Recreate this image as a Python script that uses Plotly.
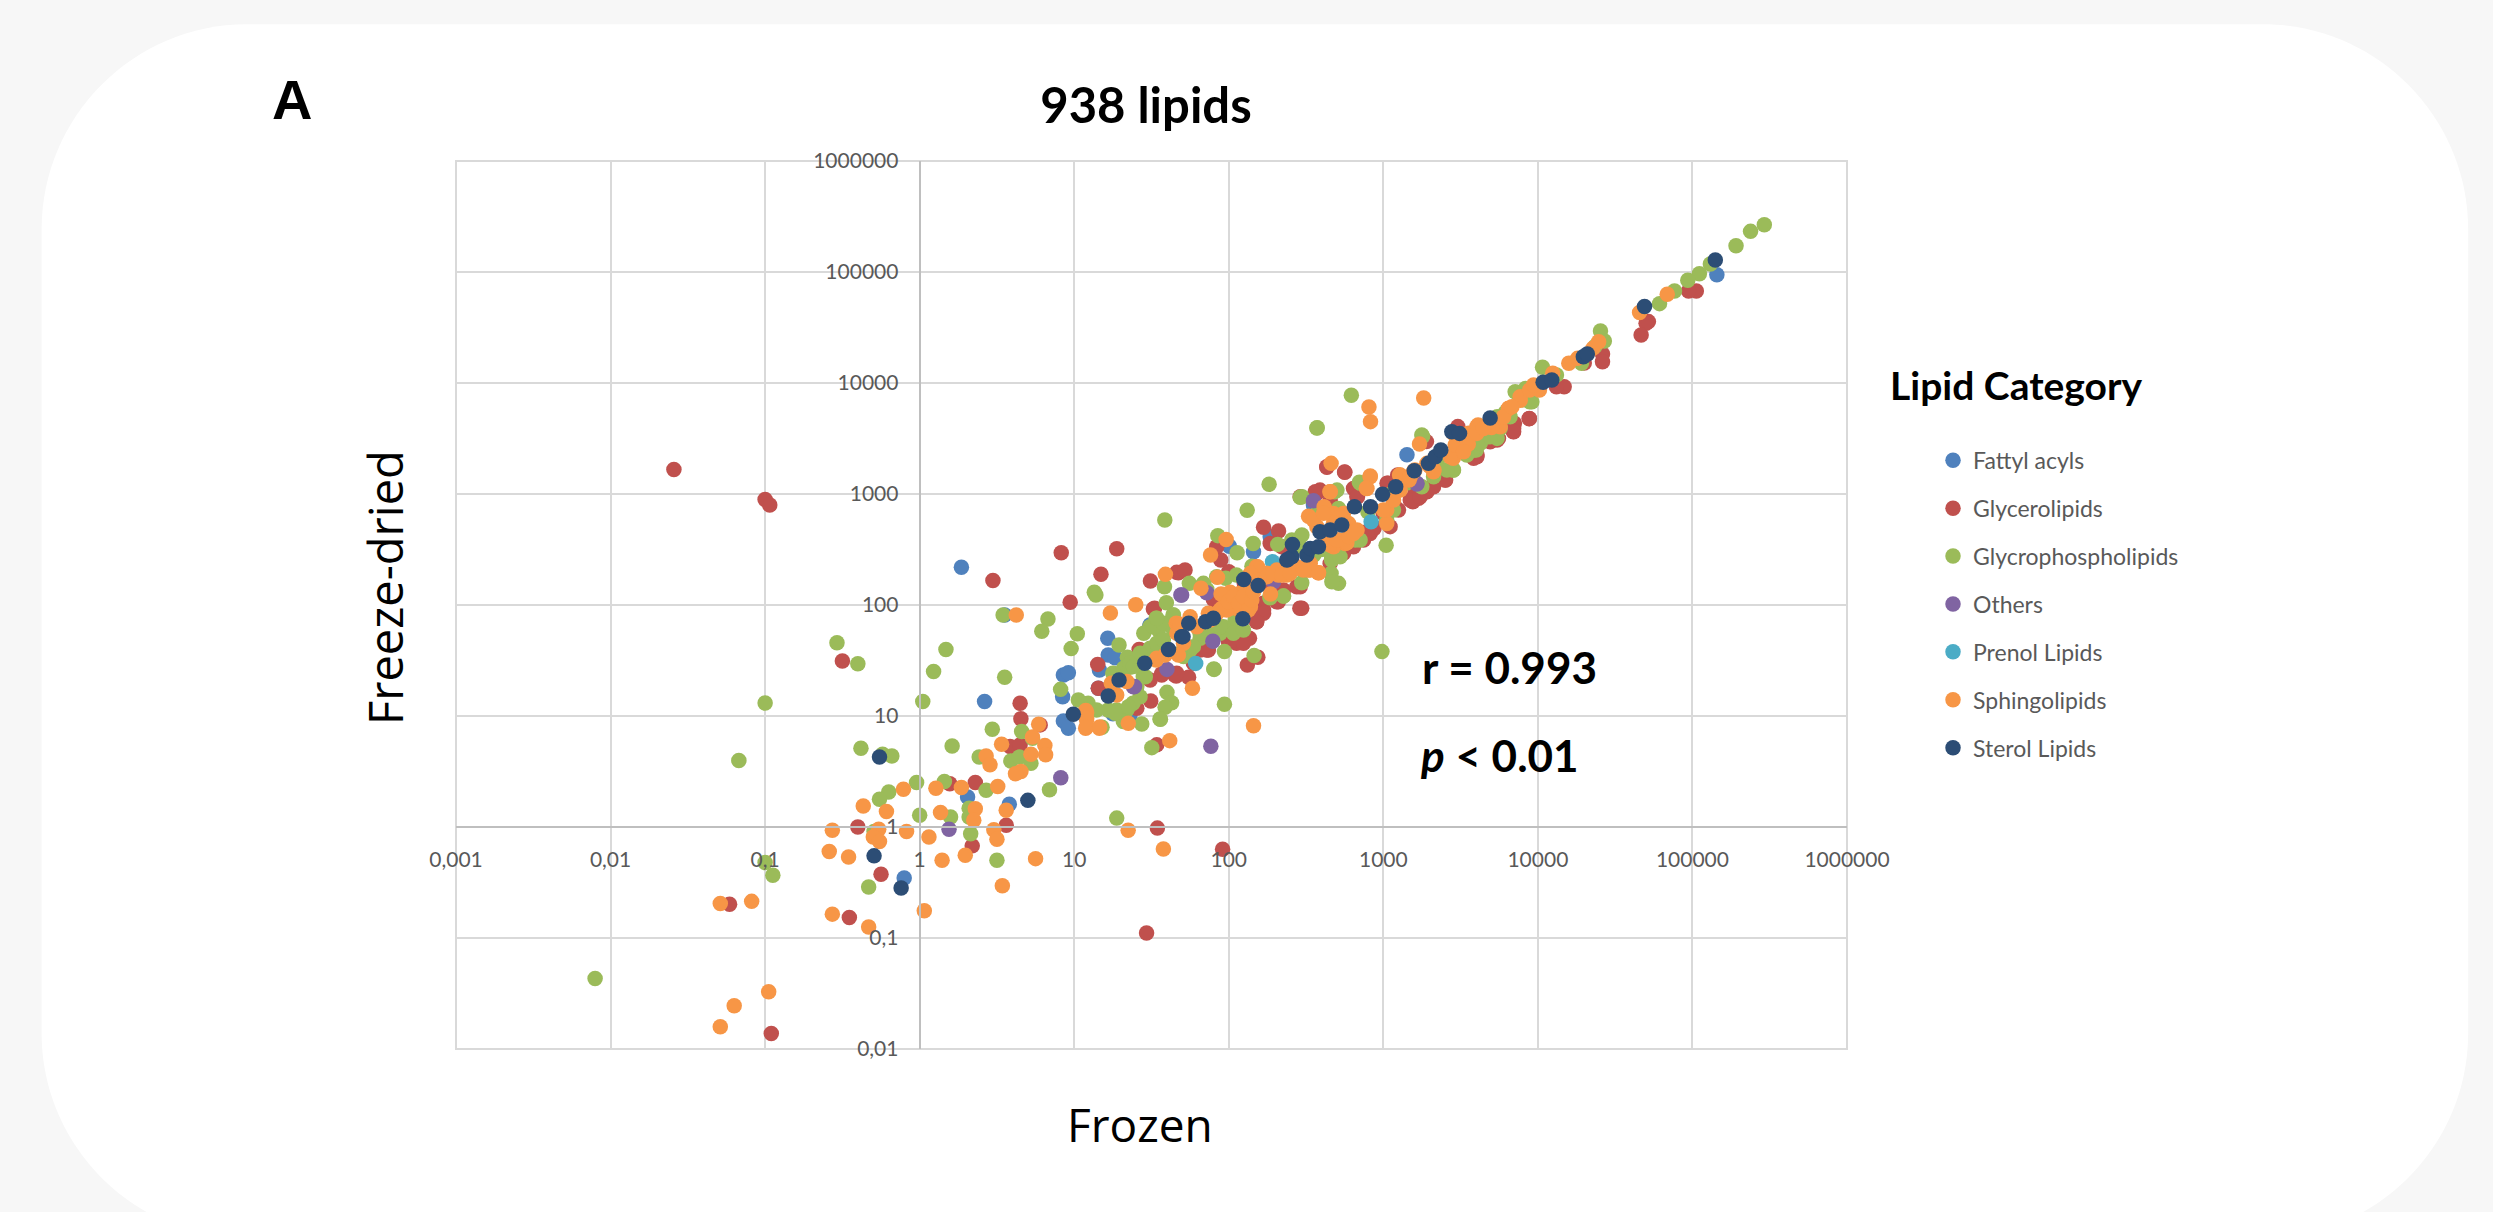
import plotly.graph_objects as go

# ---- values, log10(frozen) / log10(freeze-dried) ----
series_names = ["Fattyl acyls", "Glycerolipids", "Glycrophospholipids", "Others",
                "Prenol Lipids", "Sphingolipids", "Sterol Lipids"]
series_colors = ["#4F81BD", "#C0504D", "#9BBB59", "#8064A2", "#4BACC6", "#F79646", "#2C4D75"]

fatty_x = [0.27,0.55,0.42,1.217,1.22,1.265,1.163,0.93,0.962,0.925,0.93,0.962,1.156,0.58,0.31,-0.10,
           1.491,1.49,2.16,2.268,2.004,3.153,5.158,2.548,1.45,1.25,1.36]
fatty_y = [2.34,1.91,1.13,1.70,1.55,1.525,1.415,1.37,1.39,1.174,0.955,0.889,1.25,0.205,0.27,-0.46,
           1.82,1.81,2.48,2.615,2.53,3.354,4.976,2.90,1.55,1.02,0.99]

glycero_x = [-1.59,-1.0,-0.97,0.474,0.916,1.275,1.173,0.974,1.493,1.663,1.52,1.42,1.152,1.566,1.65,1.156,
             1.495,1.405,0.65,0.655,0.78,0.585,0.65,0.195,0.36,-0.40,0.56,0.34,-0.25,-1.23,-0.455,-0.96,
             -0.50,1.538,1.96,1.468,1.534,1.674,1.717,1.512,1.66,1.74,2.134,2.05,1.998,1.868,1.815,
             2.188,2.12,2.18,2.225,2.32,2.46,2.04,2.203,2.224,2.472,2.321,2.44,2.354,1.948,1.922,
             2.225,2.322,2.268,2.344,2.72,2.807,2.915,2.872,2.94,2.462,2.57,2.656,2.59,2.829,2.807,
             2.751,2.634,3.067,3.098,2.999,3.044,3.191,3.228,3.282,3.40,3.024,3.605,3.736,3.843,3.843,
             3.944,3.279,5.025,4.975,4.715,4.70,4.668,4.418,4.418,4.30,4.17,4.12,3.945,3.848,3.841,
             3.737,3.675,3.482,3.606,3.403,3.093,3.031,3.204,3.279,2.82,2.833,2.635,2.749,2.56,
             1.426,1.43,1.9,2.1,2.25,2.0,
             1.815,1.858,1.771,1.663,1.566,1.491,2.03,2.095,2.171,2.225,2.181,2.31,2.462,2.656,2.742,2.872,
             2.937,2.894,3.174,3.238,3.325,3.584,3.691,3.745]
glycero_y = [3.22,2.95,2.90,2.22,2.47,2.507,2.277,2.024,2.216,2.294,1.97,1.60,1.465,1.38,1.37,1.25,
             1.135,1.07,1.115,0.975,0.92,0.725,0.74,0.39,0.40,0.0,0.015,-0.17,-0.425,-0.695,-0.815,-1.86,
             1.495,-0.01,-0.20,-0.955,0.74,2.291,2.315,1.964,1.36,1.35,1.70,1.655,1.67,1.595,1.595,
             1.53,1.46,1.85,1.955,2.03,1.97,1.67,1.955,2.015,1.97,2.045,2.165,2.135,2.405,2.525,
             2.70,2.667,2.555,2.525,2.495,2.525,2.645,2.615,2.69,2.976,3.006,2.945,3.035,2.976,3.05,
             3.195,3.246,2.916,2.856,2.826,2.706,2.931,2.961,3.021,3.126,3.096,3.336,3.486,3.591,3.561,
             3.681,3.472,4.829,4.829,4.553,4.538,4.432,4.261,4.192,4.18,3.967,3.967,3.679,3.637,3.562,
             3.501,3.487,3.607,3.351,3.126,3.171,3.096,3.006,3.05,3.051,2.976,3.24,3.198,3.02,
             1.595,1.56,2.05,2.2,2.2,2.3,
             1.61,1.595,1.475,1.385,1.369,1.324,1.685,1.655,1.955,1.925,1.85,2.03,2.165,2.375,2.465,2.585,
             2.706,2.66,2.946,2.976,3.066,3.321,3.471,3.501]

glycophospho_x = [-0.535,-0.40,-1.00,-1.17,-0.38,-0.24,-0.18,0.17,0.09,0.02,0.55,0.21,0.47,-0.02,-0.20,-0.26,
                  0.0,0.16,0.20,0.32,0.32,0.33,0.43,0.385,0.59,0.645,0.72,0.66,0.73,0.84,0.50,1.275,-0.295,
                  -1.00,-0.95,-0.33,-2.10,0.54,1.13,1.14,0.83,0.79,1.02,0.98,1.584,1.586,1.596,1.53,1.49,1.45,
                  1.64,1.60,1.545,1.29,1.344,1.32,1.36,1.555,1.49,1.447,1.25,1.426,1.38,1.34,1.275,1.22,1.6,
                  1.63,1.588,1.555,1.437,1.318,1.18,1.027,1.09,1.145,0.912,1.513,1.577,1.642,1.534,1.556,1.46,
                  1.405,1.254,1.351,1.265,1.558,1.502,1.972,1.903,1.815,1.75,1.707,1.944,2.04,2.164,1.745,
                  1.858,1.972,1.905,2.267,2.354,2.041,1.966,2.472,1.922,1.836,1.98,2.05,2.158,1.929,2.054,
                  2.119,2.261,2.317,2.408,2.473,2.666,2.85,2.82,2.462,2.70,2.57,2.71,2.851,3.018,2.991,3.249,
                  3.454,3.584,3.672,3.736,3.961,3.249,5.465,5.376,5.282,5.116,5.045,4.97,4.884,4.787,4.405,
                  4.43,4.37,4.282,4.03,4.12,3.853,3.947,3.786,3.737,3.675,3.601,3.254,3.452,3.581,2.845,2.793,
                  2.57,2.684,2.474,2.572,2.662,2.71,2.667,2.267,2.354,2.15,2.4,2.3,2.55,2.6,2.9,3.05,3.15,3.35,
                  3.5,3.65,3.8,3.9,3.92,
                  1.491,1.534,1.577,1.642,1.685,1.771,1.814,1.9,1.944,2.03,2.095,1.426,1.361,1.383,2.462,2.57,
                  2.666,2.72,3.022,3.066,3.325,3.411,3.54,3.627,3.691,3.756,3.82]
glycophospho_y = [1.66,1.47,1.117,0.60,0.71,0.655,0.64,1.60,1.40,1.13,1.35,0.73,0.88,0.40,0.315,0.25,
                  0.105,0.41,0.09,0.17,0.09,-0.06,0.33,0.63,0.595,0.63,0.575,0.86,0.80,0.335,-0.30,0.08,-0.04,
                  -0.32,-0.435,-0.54,-1.365,1.91,2.114,2.09,1.874,1.763,1.741,1.607,2.165,2.766,2.02,1.88,1.805,1.745,
                  1.91,1.835,1.775,1.64,1.53,1.43,1.44,1.57,1.595,1.355,1.385,1.174,1.115,1.054,1.054,1.054,1.213,
                  1.12,1.078,0.973,0.928,0.95,0.898,1.144,1.114,1.054,1.24,1.805,1.835,1.91,1.88,1.67,1.354,
                  1.264,1.384,1.084,1.024,0.97,0.715,1.105,1.423,1.70,1.595,1.535,1.745,1.83,1.544,2.195,
                  2.14,1.58,1.42,2.075,2.08,1.865,1.805,2.2,2.255,2.195,2.24,2.27,2.555,2.625,2.47,
                  2.853,3.087,2.546,2.586,2.631,2.42,2.585,2.585,2.97,3.035,2.825,2.87,3.096,2.538,1.58,3.066,
                  3.216,3.396,3.516,3.501,3.83,3.531,5.426,5.366,5.237,5.072,4.985,4.925,4.829,4.715,4.468,
                  4.378,4.33,4.177,4.141,4.072,3.922,3.832,3.727,3.697,3.517,3.397,3.517,3.216,3.397,3.105,3.889,
                  3.595,3.02,2.976,3.597,2.285,2.195,2.21,2.066,2.08,2.35,2.42,2.3,2.45,2.5,2.84,3.0,3.1,3.3,
                  3.45,3.6,3.75,3.85,3.95,
                  1.61,1.655,1.685,1.775,1.565,1.625,1.745,1.745,1.805,1.745,1.775,1.565,1.475,1.445,2.526,2.495,
                  2.405,2.435,2.766,2.856,3.156,3.216,3.351,3.456,3.516,3.591,3.696]

others_x = [0.913,0.19,1.60,1.695,1.39,1.884,1.897,1.383,1.858,2.29,2.548,3.217,3.217,1.69]
others_y = [0.444,-0.02,1.42,2.09,1.265,0.727,1.673,1.264,2.11,2.21,2.94,3.096,3.09,2.09]

prenol_x = [1.786,2.283,2.921]
prenol_y = [1.474,2.39,2.75]

sphingo_x = [0.625,1.234,1.398,1.59,1.66,1.53,1.34,1.24,1.275,1.35,1.163,1.074,1.08,1.08,1.075,1.08,1.08,1.165,
             0.77,0.73,0.53,0.81,0.815,0.72,0.43,0.455,0.655,0.62,0.505,0.27,0.105,-0.105,-0.365,-0.215,
             0.135,0.36,0.35,0.56,0.48,0.50,-0.565,-0.085,0.06,-0.265,-0.30,-0.26,-0.585,-0.46,0.145,0.295,
             0.75,0.535,0.03,-0.565,-1.087,-1.29,-0.33,-0.977,-1.20,-1.29,1.349,1.577,1.674,1.75,1.664,1.707,
             1.674,1.534,1.588,1.765,1.618,2.16,1.944,2.01,2.07,2.14,1.88,1.793,1.685,1.987,2.05,2.117,2.073,
             2.009,1.927,1.923,1.868,2.117,2.18,2.246,2.311,2.376,2.44,2.516,2.581,2.186,2.14,2.32,2.397,
             2.58,2.526,2.46,1.882,1.983,2.753,2.678,2.635,2.527,2.775,2.83,2.742,2.677,2.634,2.516,2.617,
             2.656,2.57,2.548,2.764,2.71,2.656,2.894,2.915,3.022,3.022,3.109,3.195,3.282,3.454,3.487,3.616,3.756,
             3.234,3.605,3.81,3.886,2.907,2.917,3.261,2.662,2.915,2.89,2.655,3.105,3.167,3.204,3.328,3.452,
             3.477,3.452,3.551,3.613,3.749,3.811,3.885,3.947,4.01,3.972,4.096,4.20,4.257,4.356,4.393,4.658,4.837,
             3.3,3.55,3.7,1.82,1.95,2.27,
             1.955,1.998,2.03,2.063,2.095,2.127,2.149,2.16,2.203,2.246,2.289,2.343,2.397,2.451,2.483,
             2.656,2.699,2.775,2.807,2.72,2.677,2.613,3.0,3.066,3.109,3.174,3.325,3.433,3.465,3.519,3.605,3.648,
             3.778,3.832]
sphingo_y = [1.91,1.928,2.003,2.276,1.835,1.505,1.31,1.295,1.19,0.934,0.889,0.889,1.03,0.964,1.05,0.98,0.90,0.90,
             0.925,0.81,0.745,0.735,0.65,0.655,0.64,0.56,0.50,0.48,0.365,0.355,0.35,0.34,0.19,0.14,
             0.13,0.165,0.06,0.15,-0.025,-0.11,-0.03,-0.04,-0.09,-0.02,-0.09,-0.13,-0.22,-0.27,-0.30,-0.255,
             -0.285,-0.53,-0.755,-0.785,-0.67,-0.69,-0.90,-1.485,-1.61,-1.80,-0.03,-0.198,1.83,1.895,1.745,1.655,
             1.55,1.52,1.55,1.25,0.778,0.913,1.955,1.97,1.955,1.985,1.865,1.805,1.82,1.955,2.045,2.015,2.105,
             2.114,2.249,1.925,1.925,2.165,2.345,2.285,2.315,2.27,2.345,2.315,2.29,2.345,2.285,2.27,2.315,
             2.29,2.315,2.33,2.45,2.59,2.555,2.525,2.555,2.375,2.735,2.675,2.825,2.825,2.84,2.80,2.885,
             3.02,2.705,2.765,2.56,2.586,2.54,3.05,3.156,2.735,2.856,3.171,3.201,3.276,3.336,3.396,3.576,3.606,
             3.45,3.606,3.77,3.845,3.784,3.652,3.865,3.276,3.162,3.051,3.02,3.171,3.126,3.216,3.216,3.547,
             3.397,3.322,3.547,3.622,3.616,3.772,3.877,3.937,3.937,3.982,4.087,4.177,4.222,4.312,4.372,4.635,4.80,
             3.25,3.45,3.6,2.15,2.1,2.1,
             1.97,2.03,2.075,2.015,2.075,1.955,2.045,2.12,2.225,2.255,2.285,2.27,2.285,2.33,2.315,
             2.555,2.586,2.616,2.645,2.796,2.736,2.826,2.856,2.946,3.036,3.156,3.201,3.336,3.441,3.381,3.546,3.591,
             3.696,3.786]

sterol_x = [-0.26,-0.295,-0.12,0.70,0.994,1.22,1.29,1.456,1.61,
            1.695,1.704,1.741,1.85,1.90,2.091,2.097,2.19,2.375,2.408,2.412,2.382,2.505,2.527,2.58,2.59,2.656,
            2.731,2.813,2.917,2.995,3.08,3.2,3.292,3.336,3.372,3.443,3.493,3.691,4.034,4.09,4.294,4.32,4.69,5.148]
sterol_y = [0.63,-0.26,-0.55,0.24,1.015,1.18,1.325,1.475,1.60,
            1.715,1.715,1.835,1.85,1.88,1.877,2.23,2.175,2.405,2.435,2.546,2.41,2.45,2.51,2.525,2.66,2.675,
            2.72,2.886,2.886,2.997,3.066,3.21,3.276,3.336,3.396,3.561,3.546,3.685,4.006,4.027,4.237,4.261,4.69,5.108]

all_x = [fatty_x, glycero_x, glycophospho_x, others_x, prenol_x, sphingo_x, sterol_x]
all_y = [fatty_y, glycero_y, glycophospho_y, others_y, prenol_y, sphingo_y, sterol_y]

x_tick_values = [0.001, 0.01, 0.1, 1, 10, 100, 1000, 10000, 100000, 1000000]
x_tick_labels = ["0,001", "0,01", "0,1", "1", "10", "100", "1000", "10000", "100000", "1000000"]
y_tick_values = [0.01, 0.1, 1, 10, 100, 1000, 10000, 100000, 1000000]
y_tick_labels = ["0,01", "0,1", "1", "10", "100", "1000", "10000", "100000", "1000000"]

# ---- page geometry, in pixels ----
W, H = 2493, 1212
L, R, T, B = 456.3, 1847.0, 160.7, 1048.7
px = lambda v: (v - L) / (R - L)
py = lambda v: (B - v) / (B - T)

def card_path(x0, y0, x1, y1, r):
    k = r * 0.45
    a, b = px, py
    return (f"M {a(x0+r)} {b(y0)} L {a(x1-r)} {b(y0)} "
            f"C {a(x1-k)} {b(y0)} {a(x1)} {b(y0+k)} {a(x1)} {b(y0+r)} "
            f"L {a(x1)} {b(y1-r)} C {a(x1)} {b(y1-k)} {a(x1-k)} {b(y1)} {a(x1-r)} {b(y1)} "
            f"L {a(x0+r)} {b(y1)} C {a(x0+k)} {b(y1)} {a(x0)} {b(y1-k)} {a(x0)} {b(y1-r)} "
            f"L {a(x0)} {b(y0+r)} C {a(x0)} {b(y0+k)} {a(x0+k)} {b(y0)} {a(x0+r)} {b(y0)} Z")

fig = go.Figure()
for name, color, xs, ys in zip(series_names, series_colors, all_x, all_y):
    fig.add_trace(go.Scatter(
        x=[10 ** v for v in xs], y=[10 ** v for v in ys], mode="markers", name=name,
        legendgroup=name,
        marker=dict(size=15.5, color=color, line=dict(width=0)),
    ))

axis_common = dict(
    type="log", showgrid=True, gridcolor="#D9D9D9", gridwidth=2, zeroline=False,
    showline=True, linecolor="#BFBFBF", linewidth=2, ticks="", anchor="free",
    tickfont=dict(family="Lato", size=21, color="#595959"), tickmode="array",
    tickangle=0,
)
text = lambda x, y, s, size, **kw: dict(
    x=px(x), y=py(y), xref="paper", yref="paper", text=s, showarrow=False,
    xanchor="center", yanchor="middle",
    font=dict(family=kw.pop("family", "Lato"), size=size, color="black"), **kw)

fig.update_layout(
    width=W, height=H, autosize=False,
    paper_bgcolor="#F7F7F7", plot_bgcolor="rgba(0,0,0,0)",
    margin=dict(l=L, r=W - R, t=T, b=H - B, pad=0, autoexpand=False),
    title=dict(text="<b>938 lipids</b>", x=1146 / W, xanchor="center", xref="container",
               y=1 - 106 / H, yanchor="middle", font=dict(family="Lato", size=49, color="black")),
    xaxis=dict(range=[-3, 6], tickvals=x_tick_values, ticktext=x_tick_labels,
               position=0.25, ticklabelstandoff=14, **axis_common),
    yaxis=dict(range=[-2, 6], tickvals=y_tick_values, ticktext=y_tick_labels,
               position=1 / 3, ticklabelstandoff=16, **axis_common),
    showlegend=True,
    legend=dict(x=px(1933), y=py(438.5), xanchor="left", yanchor="top", bgcolor="rgba(0,0,0,0)",
                font=dict(family="Lato", size=23, color="#595959"), tracegroupgap=15,
                traceorder="grouped", itemclick=False),
    shapes=[dict(type="path", xref="paper", yref="paper", path=card_path(42, 24, 2468, 1238, 205),
                 fillcolor="white", line=dict(width=0), layer="below"),
            dict(type="rect", xref="paper", yref="paper", x0=0, x1=1, y0=0, y1=1,
                 line=dict(color="#D9D9D9", width=2), layer="below")],
    annotations=[
        text(292, 99, "<b>A</b>", 56, family="Liberation Sans"),
        text(1510, 667, "<b>r = 0.993</b>", 44),
        text(1500, 755, "<b><i>p</i> &lt; 0.01</b>", 44),
        text(2016, 385, "<b>Lipid Category</b>", 39),
        text(1140, 1124, "Frozen", 46, family="Open Sans"),
        text(386, 587, "Freeze-dried", 47, family="Open Sans", textangle=-90),
    ],
)
fig.write_html("out.html", post_script="document.body.style.margin='0';",
               config=dict(displayModeBar=False))
